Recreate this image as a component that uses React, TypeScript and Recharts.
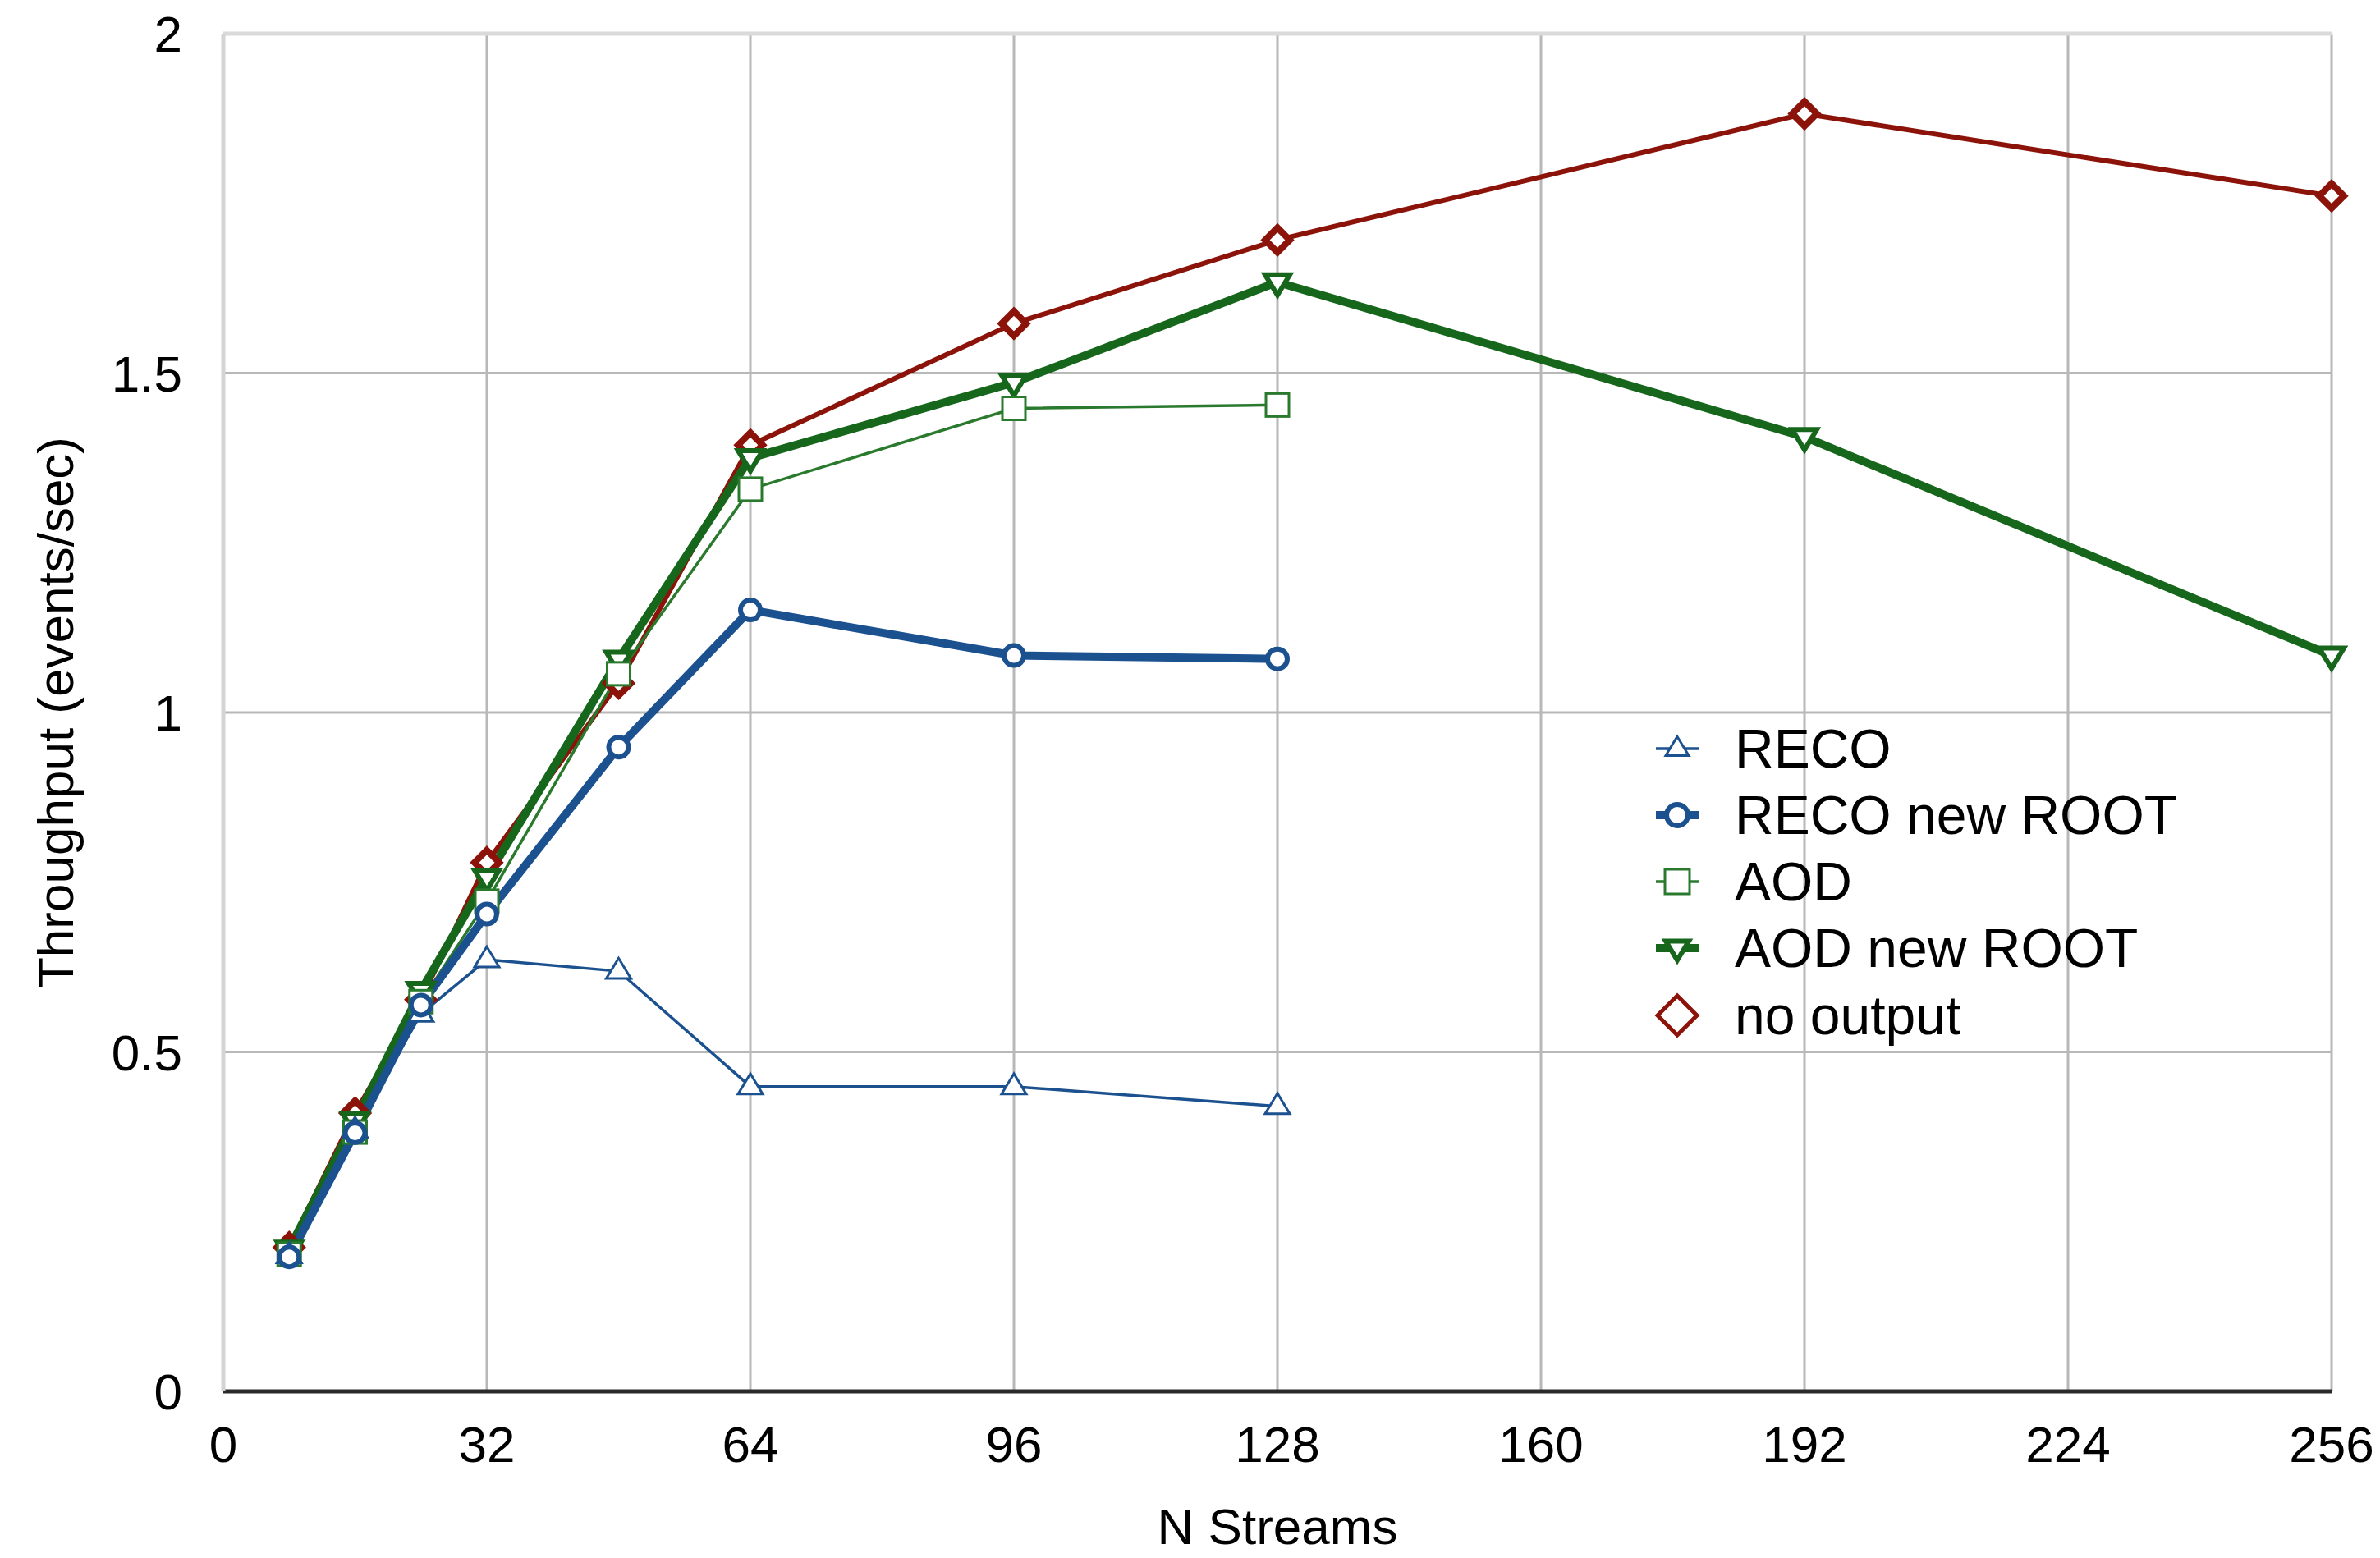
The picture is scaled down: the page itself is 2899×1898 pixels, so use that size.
import React from "react";
import {
  LineChart, Line, XAxis, YAxis, CartesianGrid, ReferenceLine, Label,
} from "recharts";

const streams = [8, 16, 24, 32, 48, 64, 96, 128, 192, 256];
const reco =        [0.2, 0.385, 0.556, 0.636, 0.619, 0.449, 0.449, 0.42, null, null];
const recoNewRoot = [0.198, 0.381, 0.569, 0.703, 0.949, 1.151, 1.084, 1.079, null, null];
const aod =         [0.202, 0.382, 0.574, 0.722, 1.057, 1.329, 1.448, 1.453, null, null];
const aodNewRoot =  [0.21, 0.398, 0.59, 0.757, 1.078, 1.375, 1.486, 1.634, 1.406, 1.084];
const noOutput =    [0.212, 0.41, 0.577, 0.779, 1.043, 1.394, 1.573, 1.696, 1.882, 1.761];

const xTicks = [0, 32, 64, 96, 128, 160, 192, 224, 256];
const yTicks = [0, 0.5, 1, 1.5, 2];

const data = streams.map((n, i) => ({
  n,
  reco: reco[i],
  recoNewRoot: recoNewRoot[i],
  aod: aod[i],
  aodNewRoot: aodNewRoot[i],
  noOutput: noOutput[i],
}));

const BLUE = "#1c5190";
const GREEN = "#16661b";
const GREEN_THIN = "#2a7a2e";
const RED = "#8c1309";
const FONT = "'Liberation Sans', Arial, Helvetica, sans-serif";

type Shape = "tri" | "circle" | "square" | "down" | "diamond";

function Marker({ shape, cx, cy, color, sw, size = 15 }: any) {
  const s = size;
  const common = { fill: "#fff", stroke: color, strokeWidth: sw };
  if (shape === "circle") return <circle cx={cx} cy={cy} r={s - 3} {...common} />;
  if (shape === "square") return <rect x={cx - s + 1} y={cy - s + 1} width={2 * s - 2} height={2 * s - 2} {...common} />;
  if (shape === "tri")
    return <polygon points={`${cx},${cy - s * 1.05} ${cx - s},${cy + s * 0.6} ${cx + s},${cy + s * 0.6}`} {...common} />;
  if (shape === "down")
    return <polygon points={`${cx},${cy + s * 1.05} ${cx - s},${cy - s * 0.6} ${cx + s},${cy - s * 0.6}`} {...common} />;
  return <polygon points={`${cx},${cy - s} ${cx + s},${cy} ${cx},${cy + s} ${cx - s},${cy}`} {...common} />;
}

const makeDot = (shape: Shape, color: string, sw: number) => (props: any) => {
  const { cx, cy, index, value } = props;
  if (value == null || cy == null) return <g key={`e-${shape}-${index}`} />;
  return <Marker key={`${shape}-${index}`} shape={shape} cx={cx} cy={cy} color={color} sw={sw} />;
};

const legendItems = [
  { label: "RECO", shape: "tri" as Shape, color: BLUE, line: 3.5, sw: 3 },
  { label: "RECO new ROOT", shape: "circle" as Shape, color: BLUE, line: 10, sw: 6 },
  { label: "AOD", shape: "square" as Shape, color: GREEN_THIN, line: 3.5, sw: 3 },
  { label: "AOD new ROOT", shape: "down" as Shape, color: GREEN, line: 10, sw: 6 },
  { label: "no output", shape: "diamond" as Shape, color: RED, line: 0, sw: 5 },
];

// legend is drawn over the chart so it takes no room from the plot
const ChartLegend = () => (
  <div style={{ position: "absolute", left: 2007, top: 863, fontFamily: FONT }}>
    {legendItems.map((it) => (
      <div key={it.label} style={{ display: "flex", alignItems: "center", height: 81.25 }}>
        <svg width={56} height={56} style={{ flex: "none" }}>
          {it.line > 0 && <line x1={2} y1={28} x2={54} y2={28} stroke={it.color} strokeWidth={it.line} />}
          <Marker shape={it.shape} cx={28} cy={28} color={it.color} sw={it.sw}
            size={it.shape === "diamond" ? 24 : it.shape === "tri" || it.shape === "down" ? 14 : 16} />
        </svg>
        <span style={{ marginLeft: 42, fontSize: 66, color: "#000", lineHeight: 1, whiteSpace: "nowrap" }}>{it.label}</span>
      </div>
    ))}
  </div>
);

const YTitle = ({ viewBox }: any) => {
  const cy = viewBox.y + viewBox.height / 2;
  return (
    <text x={59} y={cy} transform={`rotate(-90, 59, ${cy})`} textAnchor="middle"
      dominantBaseline="central" fontSize={62} fontFamily={FONT} fill="#000">
      Throughput (events/sec)
    </text>
  );
};

const XTitle = ({ viewBox }: any) => (
  <text x={viewBox.x + viewBox.width / 2} y={viewBox.y + 186} textAnchor="middle"
    fontSize={62} fontFamily={FONT} fill="#000">
    N Streams
  </text>
);

export default function App() {
  return (
    <div style={{ position: "relative", width: 2891, height: 1890 }}>
      <LineChart
        width={2891}
        height={1890}
        data={data}
        margin={{ top: 33, right: 59, left: 0, bottom: 0 }}
        style={{ fontFamily: FONT, background: "#fff" }}
      >
        <CartesianGrid stroke="#b8b8b8" strokeWidth={3} />
        <ReferenceLine y={2} stroke="#dadada" strokeWidth={5} />
        <XAxis
          dataKey="n"
          type="number"
          domain={[0, 256]}
          ticks={xTicks}
          interval={0}
          height={203}
          tickSize={0}
          tickMargin={42}
          tickLine={false}
          axisLine={{ stroke: "#2a2a2a", strokeWidth: 5 }}
          tick={{ fill: "#000", fontSize: 62, fontFamily: FONT }}
        >
          <Label content={<XTitle />} />
        </XAxis>
        <YAxis
          type="number"
          domain={[0, 2]}
          ticks={yTicks}
          interval={0}
          width={264}
          tickSize={0}
          tickMargin={50}
          tickLine={false}
          axisLine={{ stroke: "#d4d4d4", strokeWidth: 5 }}
          tick={{ fill: "#000", fontSize: 62, fontFamily: FONT }}
        >
          <Label content={<YTitle />} />
        </YAxis>
        <Line dataKey="noOutput" name="no output" stroke={RED} strokeWidth={6}
          dot={makeDot("diamond", RED, 8)} activeDot={false} isAnimationActive={false} />
        <Line dataKey="aodNewRoot" name="AOD new ROOT" stroke={GREEN} strokeWidth={10}
          dot={makeDot("down", GREEN, 6)} activeDot={false} isAnimationActive={false} />
        <Line dataKey="aod" name="AOD" stroke={GREEN_THIN} strokeWidth={3.5}
          dot={makeDot("square", GREEN_THIN, 3)} activeDot={false} isAnimationActive={false} />
        <Line dataKey="reco" name="RECO" stroke={BLUE} strokeWidth={3.5}
          dot={makeDot("tri", BLUE, 3)} activeDot={false} isAnimationActive={false} />
        <Line dataKey="recoNewRoot" name="RECO new ROOT" stroke={BLUE} strokeWidth={10}
          dot={makeDot("circle", BLUE, 6)} activeDot={false} isAnimationActive={false} />
      </LineChart>
      <ChartLegend />
    </div>
  );
}
